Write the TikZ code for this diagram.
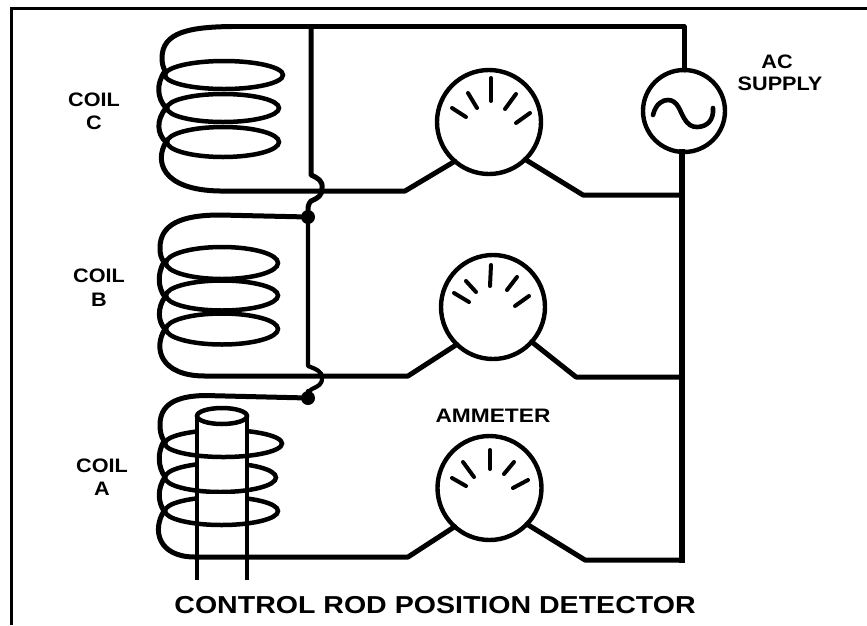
\documentclass[tikz,border=0pt]{standalone}
\usepackage{fontspec}
\setmainfont{Liberation Sans}
\tikzset{
  wire/.style={line width=5pt,line join=round,line cap=round},
  thin wire/.style={line width=4.2pt,line join=round,line cap=round},
  meter/.style={circle,draw,line width=4.4pt,minimum size=104pt,inner sep=0pt,outer sep=0pt},
  tick/.style={line width=4pt,line cap=round},
  dotnode/.style={circle,fill=black,minimum size=14pt,inner sep=0pt,outer sep=0pt},
  lab/.style={font=\fontsize{19.5}{19.5}\selectfont\bfseries,xscale=1.11,transform shape,inner sep=0pt},
  titlelab/.style={font=\fontsize{24.5}{24.5}\selectfont\bfseries,xscale=1.165,transform shape,inner sep=0pt},
  loopc/.style={line width=4.5pt}
}
\begin{document}
\begin{tikzpicture}[x=1pt,y=-1pt]
\useasboundingbox (0,0) rectangle (867,625);
% frame
\coordinate (f1) at (11.5,625);
\coordinate (f2) at (11.5,8.5);
\coordinate (f3) at (867,8.5);
\draw[line width=3.4pt] (f1) -- (f2) -- (f3);

% meters and supply
\node[meter] (mc) at (489,122) {};
\node[meter] (mb) at (493,307) {};
\node[meter] (ma) at (489.5,488) {};
\node[meter,minimum size=82pt] (ac) at (684,111) {};

% junction dots
\node[dotnode] (d1) at (308,217) {};
\node[dotnode] (d2) at (308,398) {};

% named corners
\coordinate (tr) at (684,26.5);
\coordinate (jc) at (682,195);
\coordinate (jb) at (682,377);
\coordinate (br) at (682,560);

% main right rail and top
\draw[wire] (232,26.5) -- (tr) -- (ac.north);
\draw[line width=5.8pt,line cap=rect] (682,152) -- (jc) -- (jb) -- (br);
\draw[wire] (311,26.5) -- (311,175) .. controls (318,178) and (323,181) .. (322,188) .. controls (322,196) and (318,198) .. (311,201) .. controls (308,204) and (308,208) .. (d1);
\draw[thin wire] (d1) -- (308,366) .. controls (316,369) and (323,372) .. (322,378) .. controls (322,385) and (318,386) .. (312,389) .. controls (309,391) and (308,393) .. (d2);

% Coil C
\draw[loopc] (224,75) ellipse [x radius=59,y radius=14];
\draw[loopc] (223,108) ellipse [x radius=56,y radius=14];
\draw[loopc] (223,142) ellipse [x radius=56,y radius=15];
\draw[wire] (232,26.5) .. controls (190,27) and (162,32) .. (162,58) .. controls (162,63) and (163,67) .. (165,71)
  .. controls (156,84) and (157,98) .. (166,108) .. controls (156,120) and (157,134) .. (166,142)
  .. controls (155,160) and (160,190) .. (220,191) -- (405,191) -- (mc.229);
\draw[wire] (mc.314) -- (583,195) -- (jc);

% Coil B
\draw[loopc] (222,263) ellipse [x radius=56,y radius=16];
\draw[loopc] (222,295.5) ellipse [x radius=56,y radius=15];
\draw[loopc] (222,329) ellipse [x radius=56,y radius=15.5];
\draw[wire] (d1) -- (220,215) .. controls (180,215) and (160,225) .. (160,248) .. controls (160,254) and (161,258) .. (164,262)
  .. controls (157,274) and (158,288) .. (165,297) .. controls (157,308) and (158,322) .. (165,329)
  .. controls (153,348) and (160,376) .. (205,376) -- (408,376) -- (mb.226);
\draw[wire] (mb.318) -- (576,377) -- (jb);

% Coil A
\draw[loopc] (223.5,443.5) ellipse [x radius=58.5,y radius=13.5];
\draw[loopc] (220.5,477.5) ellipse [x radius=55.5,y radius=14.5];
\draw[loopc] (221.5,511) ellipse [x radius=56.5,y radius=14];
\fill[white] (199,426) rectangle (245,445);
\fill[white] (199,460) rectangle (245,480);
\fill[white] (199,494) rectangle (245,513);
\draw[wire] (d2) -- (205,395.5) .. controls (175,396) and (160,405) .. (160,425) .. controls (160,431) and (161,436) .. (164,441)
  .. controls (157,453) and (158,467) .. (165,477) .. controls (157,489) and (158,502) .. (164,511)
  .. controls (152,530) and (158,557) .. (195,557) -- (408,557) -- (ma.228);
\draw[wire] (ma.316) -- (585,560) -- (br);

% Control rod
\coordinate (rl) at (197,416);
\coordinate (rr) at (247,416);
\coordinate (rlb) at (197,580);
\coordinate (rrb) at (247,580);
\draw[line width=4.5pt] (222,416) ellipse [x radius=25,y radius=8];
\draw[line width=4.5pt] (rl) -- (rlb);
\draw[line width=4.5pt] (rr) -- (rrb);

% dial ticks
\draw[tick] (452,108) -- (466,117);
\draw[tick] (468,93) -- (477,108);
\draw[tick] (491,78) -- (491,101);
\draw[tick] (516,94) -- (505,109);
\draw[tick] (530,113) -- (516,123);

\draw[tick] (454,293) -- (469,302);
\draw[tick] (466,281) -- (476,292);
\draw[tick] (491,265) -- (490,286);
\draw[tick] (517,277) -- (507,290);
\draw[tick] (529,296) -- (515,306);

\draw[tick] (452,478) -- (466,486);
\draw[tick] (463,462) -- (474,477);
\draw[tick] (490,450) -- (490,469);
\draw[tick] (514,462) -- (504,474);
\draw[tick] (528,480) -- (513,488);

% AC sine
\draw[line width=4.6pt,line cap=round] (653,115) .. controls (656,103) and (663,100) .. (668,100) .. controls (678,100) and (680,112) .. (684,118) .. controls (688,125) and (692,127) .. (697,127) .. controls (707,127) and (714,120) .. (713,108);

% labels
\node[lab] (lc1) at (94,99.5) {COIL};
\node[lab] (lc2) at (94,123) {C};
\node[lab] (lb1) at (99,276) {COIL};
\node[lab] (lb2) at (99,300) {B};
\node[lab] (la1) at (102,466) {COIL};
\node[lab] (la2) at (102,489) {A};
\node[lab] (ls1) at (777,62) {AC};
\node[lab] (ls2) at (780,84) {SUPPLY};
\node[lab,xscale=1.05] (lm) at (493,416) {AMMETER};
\node[titlelab] (title) at (435,605) {CONTROL ROD POSITION DETECTOR};
\end{tikzpicture}
\end{document}
